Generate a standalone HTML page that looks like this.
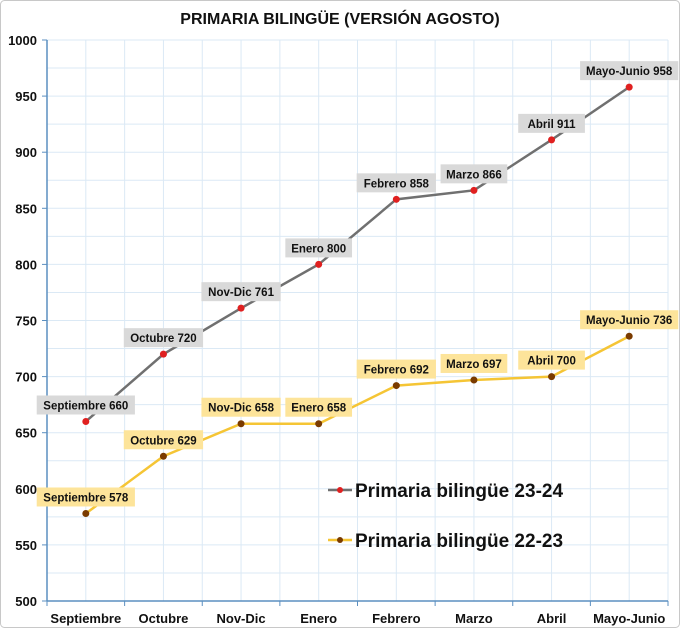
<!DOCTYPE html>
<html><head><meta charset="utf-8"><style>
body{margin:0;background:#fff;}
svg{display:block;font-family:"Liberation Sans",sans-serif;}
</style></head><body>
<svg id="chart" width="680" height="628" viewBox="0 0 680 628">
<rect x="0.5" y="0.5" width="679" height="627" rx="4" fill="#fff" stroke="#c8c8c8"/>
<text x="340" y="24" text-anchor="middle" font-size="16" font-weight="bold" fill="#111">PRIMARIA BILINGÜE (VERSIÓN AGOSTO)</text>
<g id="grid"></g>
<g id="axes"></g>
<g id="series"></g>
<g id="legend"></g>
</svg>
<script>
const categories=["Septiembre","Octubre","Nov-Dic","Enero","Febrero","Marzo","Abril","Mayo-Junio"];
const series2324=[660,720,761,800,858,866,911,958];
const series2223=[578,629,658,658,692,697,700,736];
const yTicks=[500,550,600,650,700,750,800,850,900,950,1000];
const seriesNames=["Primaria bilingüe 23-24","Primaria bilingüe 22-23"];

const L=47,R=668,T=40,B=601,yMin=500,yMax=1000;
const bw=(R-L)/categories.length;
const xs=i=>L+bw*(i+0.5);
const ys=v=>B-(v-yMin)/(yMax-yMin)*(B-T);
const NS="http://www.w3.org/2000/svg";
function mk(tag,attrs,parent){const e=document.createElementNS(NS,tag);for(const k in attrs)e.setAttribute(k,attrs[k]);parent.appendChild(e);return e;}
const grid=document.getElementById('grid'),axes=document.getElementById('axes'),ser=document.getElementById('series'),leg=document.getElementById('legend');

// grid
for(let v=yMin+25;v<=yMax;v+=25){const l=mk('line',{x1:L,x2:R,y1:ys(v),y2:ys(v),stroke:'#dbe9f5','stroke-width':1},grid);

}
for(let i=1;i<=categories.length*2;i++){const x=L+bw*i/2;const l=mk('line',{x1:x,x2:x,y1:T,y2:B,stroke:'#dbe9f5','stroke-width':1},grid);

}

// axes
let a=mk('line',{x1:L,x2:L,y1:T,y2:B,stroke:'#5b8fc0','stroke-width':1.5},axes);


a=mk('line',{x1:L,x2:R,y1:B,y2:B,stroke:'#5b8fc0','stroke-width':1.5},axes);


yTicks.forEach(v=>{const tk=mk('line',{x1:L-5,x2:L,y1:ys(v),y2:ys(v),stroke:'#5b8fc0'},axes);


const t=mk('text',{x:L-10,y:ys(v)+5,'text-anchor':'end','font-size':13,'font-weight':'bold',fill:'#111'},axes);t.textContent=v;

});
for(let i=0;i<=categories.length;i++){const tk=mk('line',{x1:L+bw*i,x2:L+bw*i,y1:B,y2:B+5,stroke:'#5b8fc0'},axes);

}
categories.forEach((c,i)=>{const t=mk('text',{x:xs(i),y:B+22,'text-anchor':'middle','font-size':13,'font-weight':'bold',fill:'#111'},axes);t.textContent=c;

});

function drawSeries(vals,lineCol,dotCol,boxCol,name){
 const g=mk('g',{},ser);
 
 
 const p=mk('polyline',{points:vals.map((v,i)=>xs(i)+','+ys(v)).join(' '),fill:'none',stroke:lineCol,'stroke-width':2.5},g);
 
 
 vals.forEach((v,i)=>{
  const c=mk('circle',{cx:xs(i),cy:ys(v),r:3.5,fill:dotCol},g);
  
  
  const txt=categories[i]+' '+v;
  const w=txt.length*6.3+10;
  const r=mk('rect',{x:xs(i)-w/2,y:ys(v)-26,width:w,height:19,fill:boxCol},g);
  
  
  const t=mk('text',{x:xs(i),y:ys(v)-12,'text-anchor':'middle','font-size':11.5,'font-weight':'bold',fill:'#111'},g);
  t.textContent=txt;
  
  
 });
}
drawSeries(series2223,'#f5c535','#7a3b00','#fde49a','series-22-23');
drawSeries(series2324,'#707070','#e02020','#d9d9d9','series-23-24');

// legend
[[seriesNames[0],'#707070','#e02020',490],[seriesNames[1],'#f5c535','#7a3b00',540]].forEach(([n,lc,dc,y])=>{
 const g=mk('g',{},leg);
 
 
 mk('line',{x1:328,x2:352,y1:y,y2:y,stroke:lc,'stroke-width':2.5},g);
 mk('circle',{cx:340,cy:y,r:3,fill:dc},g);
 const t=mk('text',{x:355,y:y+7,'font-size':19,'font-weight':'bold',fill:'#111'},g);
 t.textContent=n;
 
 
});
</script>
</body></html>
